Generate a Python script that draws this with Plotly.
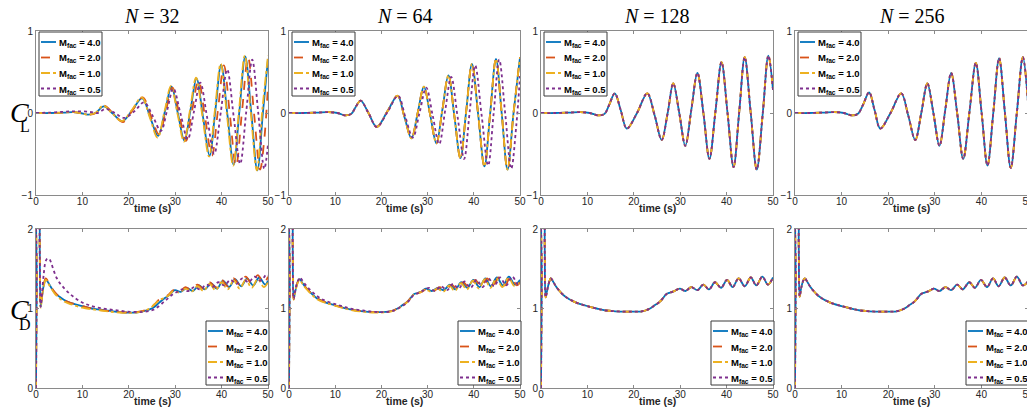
import plotly.graph_objects as go

W, H = 1035, 414
PAGE_OFF = 8  # the html body margin shifts the figure by 8 px

labels = ["4.0", "2.0", "1.0", "0.5"]
colors = ["#0072BD", "#D95319", "#EDB120", "#7E2F8E"]
dashes = ["solid", "dash", "dashdot", "dot"]
grid_n = ["32", "64", "128", "256"]

# ---------------- lift coefficient C_L ----------------
# N = 32
cl32_t_blue = [0, 3, 6, 8, 9.5, 11.2, 12.8, 14.6, 16.6, 18.6, 20.8, 22.9, 24.6, 26.3, 27.8, 29.2, 30.6, 32.0,
               33.3, 34.6, 36.0, 37.4, 38.65, 39.9, 41.25, 42.6, 43.85, 45.1, 46.4, 47.7, 48.9, 50]
cl32_blue = [0, 0, 0.005, 0.01, 0.0, -0.02, 0.0, 0.08, -0.01, -0.10, 0.04, 0.18, -0.05, -0.28, 0.02, 0.32, -0.01, -0.34,
             0.04, 0.42, -0.05, -0.52, 0.03, 0.59, -0.02, -0.63, 0.03, 0.69, 0.0, -0.70, 0.0, 0.66]
cl32_t_orange = [0, 3, 6, 8, 9.5, 11.3, 12.9, 14.7, 16.7, 18.8, 20.9, 23.0, 24.8, 26.5, 28.0, 29.4, 30.85, 32.3,
                 33.65, 35.0, 36.45, 37.9, 39.2, 40.5, 41.8, 43.1, 44.4, 45.7, 47.0, 48.3, 49.2, 50]
cl32_orange = [0, 0, 0.005, 0.01, 0.0, -0.02, 0.0, 0.09, -0.01, -0.11, 0.04, 0.19, -0.04, -0.26, 0.03, 0.31, -0.01, -0.34,
               0.03, 0.40, -0.06, -0.52, 0.03, 0.58, -0.03, -0.65, 0.02, 0.68, -0.01, -0.69, -0.32, 0.34]
cl32_t_yellow = [0, 3, 6, 8, 9.5, 11.2, 12.8, 14.5, 16.5, 18.5, 20.7, 22.8, 24.5, 26.2, 27.7, 29.1, 30.5, 31.9,
                 33.2, 34.5, 35.9, 37.3, 38.55, 39.8, 41.15, 42.5, 43.75, 45.0, 46.3, 47.6, 48.8, 50]
cl32_yellow = [0, 0, 0.005, 0.01, 0.0, -0.02, 0.0, 0.09, -0.01, -0.10, 0.04, 0.19, -0.05, -0.30, 0.02, 0.33, -0.01, -0.35,
               0.04, 0.43, -0.05, -0.53, 0.03, 0.60, -0.02, -0.64, 0.03, 0.70, 0.0, -0.70, 0.05, 0.70]
cl32_t_purple = [0, 3, 6, 8, 10, 12, 13.3, 15.0, 17.0, 19.0, 21.2, 23.3, 25.1, 26.9, 28.25, 29.6, 31.15, 32.7,
                 34.05, 35.4, 36.9, 38.4, 39.8, 41.2, 42.6, 44.0, 45.3, 46.6, 47.9, 49.2, 50]
cl32_purple = [0, 0.005, 0.015, 0.02, 0.02, 0.01, 0.0, 0.05, 0.0, -0.06, 0.02, 0.13, -0.03, -0.22, 0.03, 0.30, -0.01, -0.32,
               0.02, 0.37, -0.06, -0.50, 0.0, 0.53, -0.04, -0.62, 0.01, 0.65, 0.0, -0.68, -0.38]

# N = 64 (4.0, 2.0 and 1.0 lie on top of each other)
cl64_t = [0, 3, 6, 8.5, 10.5, 12.3, 13.5, 14.4, 15.5, 17.2, 19.0, 21.3, 23.5, 25.0, 26.5, 27.85, 29.2, 30.55, 31.9,
          33.2, 34.5, 35.8, 37.1, 38.35, 39.6, 40.95, 42.3, 43.55, 44.8, 46.05, 47.3, 48.6, 50]
cl64 = [0, 0, 0.005, 0.01, 0.0, -0.03, -0.01, 0.07, 0.15, 0.0, -0.17, 0.02, 0.21, -0.05, -0.31, 0.0, 0.32, -0.02, -0.37,
        0.04, 0.46, -0.04, -0.55, 0.02, 0.60, -0.02, -0.65, 0.0, 0.66, -0.01, -0.69, 0.0, 0.68]
cl64_t_purple = [0, 3, 6, 8.5, 10.5, 12.3, 13.5, 14.4, 15.5, 17.2, 19.0, 21.4, 23.6, 25.2, 26.8, 28.25, 29.7, 31.1, 32.5,
                 33.8, 35.1, 36.5, 37.9, 39.1, 40.3, 41.7, 43.1, 44.3, 45.5, 46.8, 48.1, 49.2, 50]
cl64_purple = [0, 0, 0.005, 0.01, 0.0, -0.03, -0.01, 0.07, 0.15, 0.0, -0.17, 0.02, 0.21, -0.05, -0.30, 0.0, 0.31, -0.03, -0.38,
               0.03, 0.44, -0.05, -0.56, 0.01, 0.58, -0.03, -0.64, 0.0, 0.65, -0.01, -0.68, -0.15, 0.45]

# N = 128 and N = 256 (all four curves coincide)
cl128_t = [0, 3, 6, 8.5, 10.5, 12.5, 13.7, 14.7, 15.9, 17.2, 18.5, 20.7, 22.9, 24.5, 26.0, 27.3, 28.5, 29.8, 31.1,
           32.4, 33.7, 35.0, 36.3, 37.6, 38.9, 40.2, 41.5, 42.7, 43.9, 45.2, 46.5, 47.8, 49.0, 50]
cl128 = [0, 0, 0.005, 0.01, 0.0, -0.03, -0.01, 0.1, 0.24, 0.03, -0.19, 0.0, 0.24, -0.03, -0.33, 0.0, 0.36, 0.0, -0.40,
         0.04, 0.49, 0.0, -0.56, 0.02, 0.62, 0.0, -0.66, 0.0, 0.68, 0.0, -0.69, 0.0, 0.70, 0.28]
cl256_t = [0, 3, 6, 8.5, 10.5, 12.3, 13.5, 14.6, 15.9, 17.1, 18.3, 20.5, 22.8, 24.3, 25.8, 27.1, 28.4, 29.7, 31.0,
           32.25, 33.5, 34.8, 36.1, 37.45, 38.8, 40.05, 41.3, 42.55, 43.8, 45.05, 46.3, 47.6, 48.9, 50]
cl256 = [0, 0, 0.005, 0.01, 0.0, -0.03, -0.01, 0.1, 0.25, 0.03, -0.19, 0.0, 0.24, -0.03, -0.33, 0.0, 0.36, 0.0, -0.40,
         0.04, 0.49, 0.0, -0.56, 0.02, 0.61, 0.0, -0.64, 0.0, 0.67, 0.0, -0.67, 0.0, 0.68, 0.13]

# ---------------- drag coefficient C_D ----------------
# N = 32
cd32_t_blue = [0, 0.15, 0.35, 0.6, 0.8, 1.0, 1.3, 1.7, 2.1, 2.6, 3.2, 4, 5, 6, 7, 8, 10, 12, 14, 16, 18, 20, 21.5, 23,
               24.5, 25.5, 26.5, 27.5, 28.5, 29.9, 31.2, 32.5, 33.8, 35.1, 36.4, 37.7, 39.0, 40.3, 41.6, 42.9, 44.2,
               45.5, 46.8, 48.1, 49.4, 50]
cd32_blue = [0, 1.3, 2.4, 2.4, 1.8, 1.02, 1.15, 1.3, 1.37, 1.33, 1.27, 1.2, 1.15, 1.11, 1.08, 1.06, 1.03, 1.0, 0.985,
             0.97, 0.955, 0.948, 0.95, 0.965, 0.99, 1.02, 1.07, 1.12, 1.16, 1.23, 1.21, 1.26, 1.22, 1.29, 1.24, 1.32,
             1.25, 1.35, 1.27, 1.37, 1.28, 1.38, 1.29, 1.39, 1.30, 1.35]
cd32_t_orange = [0, 0.15, 0.35, 0.6, 0.8, 1.0, 1.3, 1.7, 2.1, 2.6, 3.2, 4, 5, 6, 7, 8, 10, 12, 14, 16, 18, 20, 21.5, 23,
                 24.5, 25.5, 26.5, 27.5, 28.5, 29.6, 30.9, 32.2, 33.5, 34.8, 36.1, 37.4, 38.7, 40.0, 41.3, 42.6, 43.9,
                 45.2, 46.5, 47.8, 49.1, 50]
cd32_orange = [0, 1.3, 2.4, 2.4, 1.8, 1.03, 1.16, 1.31, 1.38, 1.34, 1.28, 1.21, 1.15, 1.11, 1.08, 1.06, 1.03, 1.0, 0.98,
               0.965, 0.955, 0.95, 0.952, 0.97, 1.0, 1.05, 1.11, 1.14, 1.17, 1.23, 1.21, 1.27, 1.23, 1.30, 1.25, 1.33,
               1.27, 1.36, 1.28, 1.38, 1.30, 1.40, 1.31, 1.42, 1.32, 1.40]
cd32_t_yellow = [0, 0.15, 0.35, 0.6, 0.8, 1.0, 1.3, 1.7, 2.1, 2.6, 3.2, 4, 5, 6, 7, 8, 10, 12, 14, 16, 18, 20, 21.5, 23,
                 24.5, 25.5, 26.5, 27.5, 28.5, 29.6, 30.9, 32.2, 33.5, 34.8, 36.1, 37.4, 38.7, 40.0, 41.3, 42.6, 43.9,
                 45.2, 46.5, 47.8, 49.1, 50]
cd32_yellow = [0, 1.3, 2.4, 2.4, 1.8, 1.01, 1.14, 1.29, 1.36, 1.32, 1.26, 1.19, 1.13, 1.09, 1.065, 1.045, 1.01, 0.99, 0.975,
               0.96, 0.95, 0.945, 0.948, 0.965, 1.0, 1.05, 1.1, 1.13, 1.16, 1.22, 1.20, 1.25, 1.21, 1.28, 1.22, 1.31,
               1.23, 1.33, 1.24, 1.35, 1.25, 1.36, 1.26, 1.37, 1.27, 1.33]
cd32_t_purple = [0, 0.15, 0.35, 0.6, 0.8, 1.0, 1.3, 1.7, 2.1, 2.5, 2.9, 3.3, 3.8, 4.4, 5, 6, 7, 8, 9.5, 11, 13, 15, 17,
                 19, 21, 23, 24.5, 25.5, 26.5, 27.5, 28.5, 29.5, 30.5, 31.5, 32.8, 34.1, 35.4, 36.7, 38.0, 39.3, 40.6,
                 41.9, 43.2, 44.5, 45.8, 47.1, 48.4, 49.7, 50]
cd32_purple = [0, 1.3, 2.4, 2.4, 1.8, 1.02, 1.2, 1.45, 1.6, 1.63, 1.62, 1.57, 1.48, 1.39, 1.33, 1.26, 1.2, 1.15, 1.09,
               1.05, 1.015, 0.995, 0.98, 0.965, 0.957, 0.957, 0.97, 0.99, 1.03, 1.08, 1.13, 1.18, 1.21, 1.24, 1.22,
               1.27, 1.24, 1.30, 1.27, 1.33, 1.29, 1.36, 1.31, 1.38, 1.33, 1.40, 1.35, 1.43, 1.42]

# N = 64
cd64_t_blue = [0, 0.15, 0.35, 0.6, 0.8, 1.0, 1.3, 1.8, 2.3, 2.8, 3.4, 4, 5, 6, 7, 8, 10, 12, 14, 16, 18, 20, 21.5, 22.5,
               23.5, 24.5, 25.5, 26.3, 27.0, 27.8, 28.6, 29.6, 30.9, 32.2, 33.5, 34.8, 36.0, 37.3, 38.6, 39.9, 41.2,
               42.5, 43.7, 45.0, 46.3, 47.6, 48.9, 50]
cd64_blue = [0, 1.3, 2.4, 2.4, 1.8, 1.12, 1.2, 1.32, 1.37, 1.33, 1.28, 1.24, 1.18, 1.13, 1.10, 1.075, 1.04, 1.005, 0.98,
             0.965, 0.955, 0.955, 0.96, 0.975, 1.0, 1.04, 1.08, 1.13, 1.18, 1.195, 1.21, 1.25, 1.22, 1.26, 1.23, 1.30,
             1.24, 1.33, 1.26, 1.36, 1.27, 1.38, 1.28, 1.39, 1.29, 1.40, 1.30, 1.36]
cd64_t_orange = [0, 0.15, 0.35, 0.6, 0.8, 1.0, 1.3, 1.8, 2.3, 2.8, 3.4, 4, 5, 6, 7, 8, 10, 12, 14, 16, 18, 20, 21.5, 22.5,
                 23.5, 24.5, 25.5, 26.3, 27.0, 27.8, 28.7, 30.0, 31.3, 32.6, 33.9, 35.2, 36.4, 37.7, 39.0, 40.3, 41.6,
                 42.9, 44.1, 45.4, 46.7, 48.0, 49.3, 50]
cd64_orange = [0, 1.3, 2.4, 2.4, 1.8, 1.12, 1.2, 1.32, 1.37, 1.33, 1.28, 1.24, 1.18, 1.13, 1.10, 1.075, 1.04, 1.005, 0.98,
               0.965, 0.955, 0.955, 0.96, 0.975, 1.0, 1.04, 1.08, 1.13, 1.18, 1.195, 1.21, 1.25, 1.22, 1.27, 1.23, 1.30,
               1.24, 1.33, 1.26, 1.36, 1.27, 1.38, 1.28, 1.39, 1.29, 1.40, 1.29, 1.33]
cd64_t_yellow = [0, 0.15, 0.35, 0.6, 0.8, 1.0, 1.3, 1.8, 2.3, 2.8, 3.4, 4, 5, 6, 7, 8, 10, 12, 14, 16, 18, 20, 21.5, 22.5,
                 23.5, 24.5, 25.5, 26.3, 27.0, 27.8, 28.5, 29.5, 30.8, 32.1, 33.4, 34.7, 35.9, 37.2, 38.5, 39.8, 41.1,
                 42.4, 43.6, 44.9, 46.2, 47.5, 48.8, 50]
cd64_yellow = [0, 1.3, 2.4, 2.4, 1.8, 1.11, 1.19, 1.31, 1.36, 1.32, 1.27, 1.23, 1.17, 1.12, 1.09, 1.07, 1.035, 1.0, 0.975,
               0.96, 0.95, 0.95, 0.955, 0.97, 0.995, 1.035, 1.075, 1.125, 1.175, 1.19, 1.205, 1.24, 1.21, 1.25, 1.21, 1.29,
               1.22, 1.32, 1.24, 1.35, 1.25, 1.37, 1.26, 1.38, 1.27, 1.39, 1.28, 1.34]
cd64_t_purple = [0, 0.15, 0.35, 0.6, 0.8, 1.0, 1.3, 1.8, 2.4, 2.8, 3.4, 4, 5, 6, 7, 8, 10, 12, 14, 16, 18, 20, 21.5, 22.5,
                 23.5, 24.5, 25.5, 26.3, 27.0, 27.8, 28.6, 30.3, 31.6, 32.9, 34.2, 35.5, 36.7, 38.0, 39.3, 40.6, 41.9,
                 43.2, 44.4, 45.7, 47.0, 48.3, 49.6, 50]
cd64_purple = [0, 1.3, 2.4, 2.4, 1.8, 1.12, 1.21, 1.33, 1.39, 1.36, 1.31, 1.27, 1.21, 1.16, 1.12, 1.095, 1.055, 1.02, 0.99,
               0.975, 0.96, 0.955, 0.958, 0.97, 0.995, 1.03, 1.07, 1.12, 1.17, 1.19, 1.21, 1.26, 1.22, 1.28, 1.23, 1.31,
               1.25, 1.34, 1.26, 1.36, 1.27, 1.38, 1.28, 1.39, 1.29, 1.40, 1.30, 1.31]

# N = 128 and N = 256 (all four curves coincide)
cd128_t = [0, 0.15, 0.35, 0.6, 0.8, 1.0, 1.3, 1.7, 2.1, 2.6, 3.2, 4, 5, 6, 7, 8, 10, 12, 14, 16, 18, 20, 21.5, 22.5,
           23.5, 24.5, 25.5, 26.3, 27.0, 27.8, 28.6, 29.9, 31.1, 32.4, 33.7, 35.0, 36.2, 37.5, 38.8, 40.1, 41.3, 42.6,
           43.9, 45.2, 46.4, 47.7, 48.9, 50]
cd128 = [0, 1.3, 2.4, 2.4, 1.8, 1.14, 1.22, 1.32, 1.38, 1.34, 1.28, 1.22, 1.16, 1.12, 1.09, 1.065, 1.03, 1.0, 0.975,
         0.965, 0.96, 0.96, 0.962, 0.975, 1.0, 1.04, 1.08, 1.13, 1.18, 1.2, 1.215, 1.25, 1.22, 1.27, 1.23, 1.30, 1.24,
         1.33, 1.26, 1.36, 1.27, 1.38, 1.28, 1.39, 1.29, 1.40, 1.30, 1.39]
cd256_t = [0, 0.15, 0.35, 0.6, 0.8, 1.0, 1.3, 1.7, 2.1, 2.6, 3.2, 4, 5, 6, 7, 8, 10, 12, 14, 16, 18, 20, 21.5, 22.5,
           23.5, 24.5, 25.5, 26.3, 27.0, 27.8, 28.6, 29.8, 31.0, 32.3, 33.5, 34.8, 36.0, 37.4, 38.6, 39.9, 41.2, 42.5,
           43.7, 45.0, 46.3, 47.6, 48.9, 50]
cd256 = [0, 1.3, 2.4, 2.4, 1.8, 1.15, 1.25, 1.34, 1.38, 1.34, 1.28, 1.22, 1.16, 1.12, 1.09, 1.065, 1.03, 1.0, 0.975,
         0.965, 0.96, 0.96, 0.962, 0.975, 1.0, 1.04, 1.08, 1.13, 1.18, 1.2, 1.215, 1.25, 1.22, 1.27, 1.23, 1.30, 1.24,
         1.33, 1.26, 1.36, 1.27, 1.38, 1.28, 1.39, 1.29, 1.40, 1.29, 1.34]

cl_panels = [
    [(cl32_t_blue, cl32_blue), (cl32_t_orange, cl32_orange), (cl32_t_yellow, cl32_yellow), (cl32_t_purple, cl32_purple)],
    [(cl64_t, cl64), (cl64_t, cl64), (cl64_t, cl64), (cl64_t_purple, cl64_purple)],
    [(cl128_t, cl128)] * 4,
    [(cl256_t, cl256)] * 4,
]
cd_panels = [
    [(cd32_t_blue, cd32_blue), (cd32_t_orange, cd32_orange), (cd32_t_yellow, cd32_yellow), (cd32_t_purple, cd32_purple)],
    [(cd64_t_blue, cd64_blue), (cd64_t_orange, cd64_orange), (cd64_t_yellow, cd64_yellow), (cd64_t_purple, cd64_purple)],
    [(cd128_t, cd128)] * 4,
    [(cd256_t, cd256)] * 4,
]

# page-pixel boxes of the axes
col_px = [(36, 268), (289, 520), (541, 773), (795, 1028)]
row_px = [(31, 195), (229, 388)]
LEG_W, LEG_H, ROW = 63, 64, 15.5

def px_x(p):
    return (p - PAGE_OFF) / W

def px_y(p):
    return 1 - (p - PAGE_OFF) / H

fig = go.Figure()
axis_style = dict(showline=True, linecolor="#8a8a8a", linewidth=1, mirror="ticks", ticks="inside", ticklen=3,
                  tickcolor="#8a8a8a", showgrid=False, zeroline=False, automargin=False,
                  tickfont=dict(family="Liberation Sans, Arial", size=10, color="#262626"))
annotations = []
shapes = []
font_sans = "Liberation Sans, Arial"
font_serif = "Liberation Serif, Times New Roman"

for r, panels in enumerate([cl_panels, cd_panels]):
    for c in range(4):
        n = r * 4 + c + 1
        sfx = "" if n == 1 else str(n)
        for s in range(4):
            t, v = panels[c][s]
            fig.add_trace(go.Scatter(
                x=t, y=v, mode="lines", name=f"M_fac = {labels[s]}", showlegend=False,
                line=dict(color=colors[s], dash=dashes[s], width=1.8, shape="spline", smoothing=1),
                xaxis=f"x{sfx}", yaxis=f"y{sfx}", hoverinfo="skip"))
        x0, x1 = col_px[c]
        y0, y1 = row_px[r]
        fig.layout[f"xaxis{sfx}"] = dict(axis_style, domain=[px_x(x0), px_x(x1)], anchor=f"y{sfx}",
                                         range=[0, 50], tickvals=[0, 10, 20, 30, 40, 50], ticklabelstandoff=-3)
        if r == 0:
            yax = dict(range=[-1, 1], tickvals=[-1, 0, 1])
            lx, ly = x0 + 3, y0 + 1
        else:
            yax = dict(range=[0, 2], tickvals=[0, 1, 2])
            lx, ly = x1 + 1 - LEG_W, y1 - 3 - LEG_H
        fig.layout[f"yaxis{sfx}"] = dict(axis_style, domain=[px_y(y1), px_y(y0)], anchor=f"x{sfx}", **yax)

        # legend box
        shapes.append(dict(type="rect", xref="paper", yref="paper", x0=px_x(lx), x1=px_x(lx + LEG_W),
                           y0=px_y(ly), y1=px_y(ly + LEG_H), fillcolor="white",
                           line=dict(color="#3a3a3a", width=1), layer="above"))
        for s in range(4):
            yc = ly + 10 + ROW * s
            shapes.append(dict(type="line", xref="paper", yref="paper", x0=px_x(lx + 2), x1=px_x(lx + 17),
                               y0=px_y(yc), y1=px_y(yc), layer="above",
                               line=dict(color=colors[s], dash=dashes[s], width=1.8)))
            annotations.append(dict(text=f"<b>M<sub>fac</sub> = {labels[s]}</b>", x=px_x(lx + 17.5), y=px_y(yc + 1),
                                    xref="paper", yref="paper", xanchor="left", yanchor="middle", showarrow=False,
                                    font=dict(family=font_sans, size=9.5, color="black")))

        annotations.append(dict(text="<b>time (s)</b>", x=px_x((x0 + x1) / 2), y=px_y(y1 + 13),
                                xref="paper", yref="paper", xanchor="center", yanchor="middle", showarrow=False,
                                font=dict(family=font_sans, size=10.5, color="#262626")))
        if r == 0:
            annotations.append(dict(text=f"<i>N</i> = {grid_n[c]}", x=px_x((x0 + x1) / 2), y=px_y(16),
                                    xref="paper", yref="paper", xanchor="center", yanchor="middle", showarrow=False,
                                    font=dict(family=font_serif, size=20, color="black")))

# y-axis symbols C_L and C_D: italic C with an upright subscript tucked underneath
for sub, yc in [("L", 112), ("D", 309)]:
    annotations.append(dict(text="<i>C</i>", x=px_x(PAGE_OFF), y=px_y(yc), xref="paper", yref="paper",
                            xanchor="left", yanchor="middle", showarrow=False,
                            font=dict(family=font_serif, size=28, color="black")))
    annotations.append(dict(text=sub, x=px_x(25), y=px_y(yc + 15), xref="paper", yref="paper",
                            xanchor="center", yanchor="middle", showarrow=False,
                            font=dict(family=font_serif, size=16, color="black")))

fig.update_layout(width=W, height=H, margin=dict(l=0, r=0, t=0, b=0, autoexpand=False), paper_bgcolor="white",
                  plot_bgcolor="white", showlegend=False, annotations=annotations, shapes=shapes)

fig.write_html("out.html")
